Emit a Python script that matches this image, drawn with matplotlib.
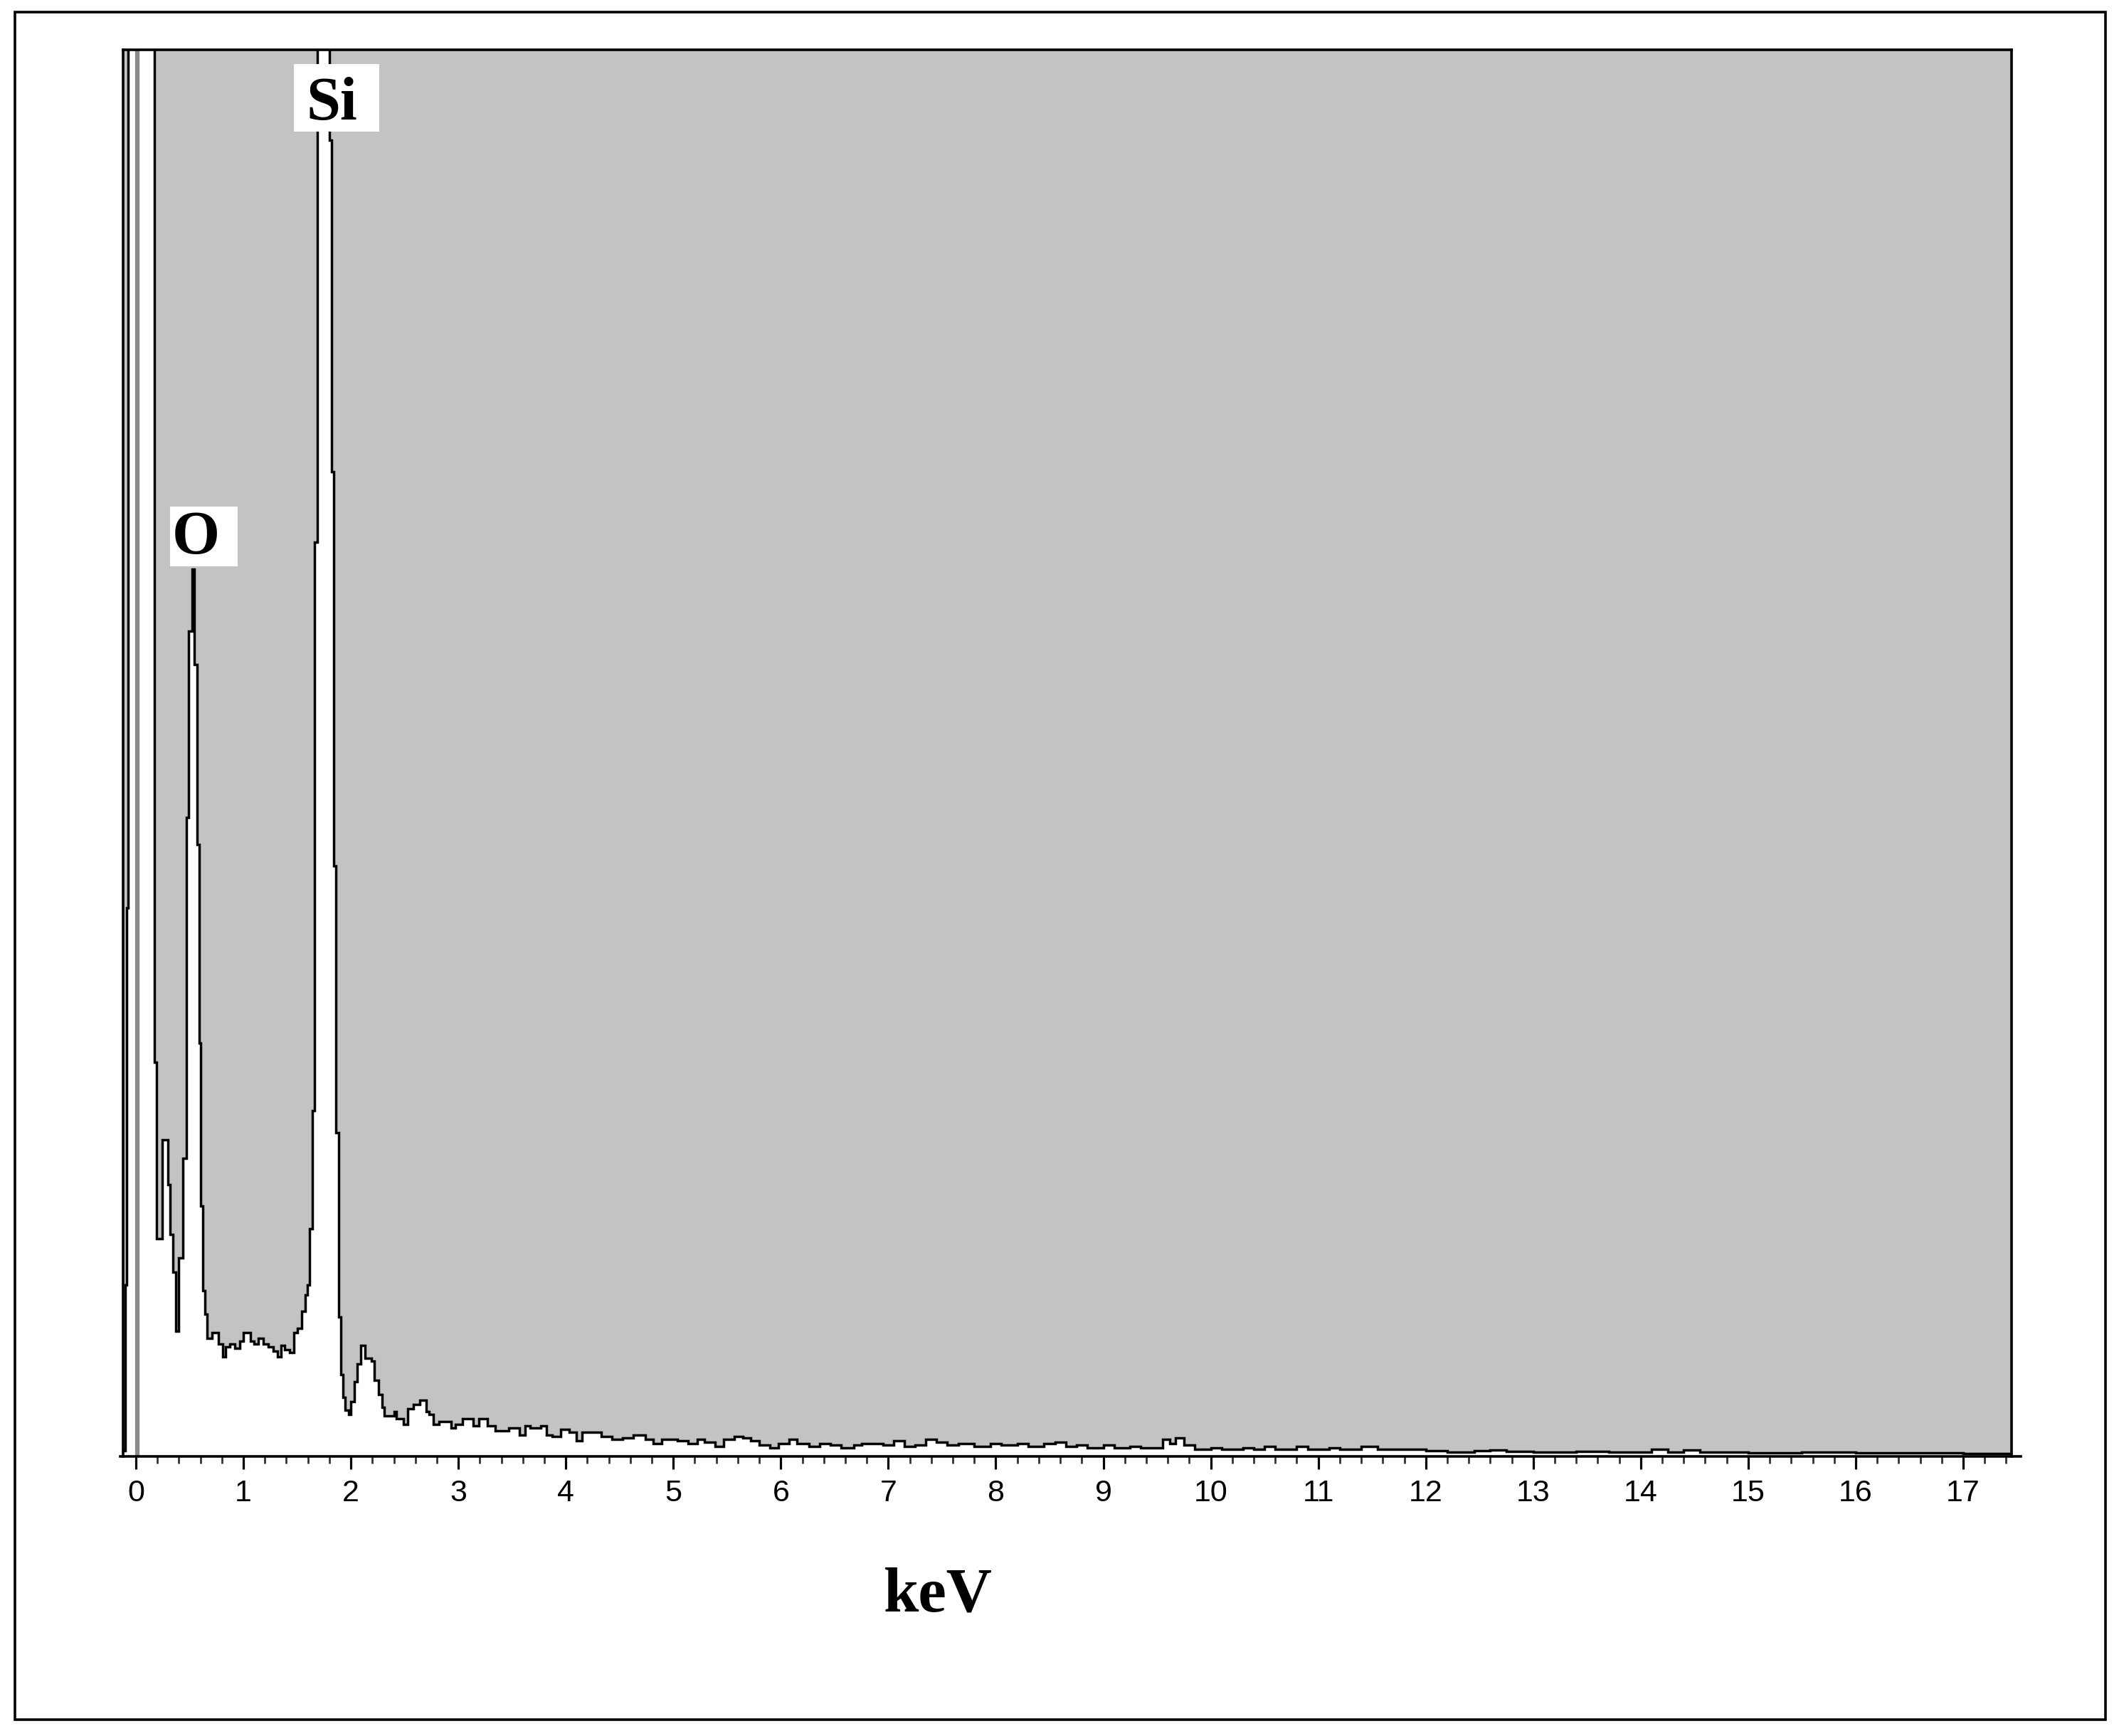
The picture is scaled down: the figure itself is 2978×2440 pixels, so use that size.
import matplotlib
matplotlib.use("Agg")
import matplotlib.pyplot as plt
from matplotlib.patches import Rectangle
from matplotlib.ticker import MultipleLocator

# ---- data (energy channel start in keV, counts normalised so the frame top = 1000) ----
channel_start = [
    -0.119, -0.10, -0.085, -0.07, 0.17, 0.19, 0.245, 0.30, 0.32, 0.345,
    0.37, 0.40, 0.435, 0.468, 0.49, 0.52, 0.545, 0.568, 0.59, 0.605,
    0.625, 0.64, 0.66, 0.678, 0.711, 0.766, 0.81, 0.833, 0.877, 0.92,
    0.965, 0.998, 1.064, 1.098, 1.142, 1.186, 1.23, 1.275, 1.32, 1.352,
    1.385, 1.43, 1.473, 1.506, 1.54, 1.573, 1.595, 1.617, 1.64, 1.66,
    1.685, 1.80, 1.82, 1.84, 1.86, 1.885, 1.905, 1.925, 1.947, 1.98,
    2.00, 2.03, 2.058, 2.09, 2.13, 2.19, 2.22, 2.256, 2.29, 2.31,
    2.40, 2.42, 2.49, 2.53, 2.58, 2.64, 2.70, 2.73, 2.77, 2.82,
    2.93, 2.97, 3.04, 3.14, 3.19, 3.27, 3.34, 3.47, 3.57, 3.62,
    3.67, 3.77, 3.82, 3.87, 3.95, 4.03, 4.10, 4.15, 4.23, 4.33,
    4.43, 4.53, 4.63, 4.74, 4.81, 4.89, 5.04, 5.14, 5.22, 5.29,
    5.39, 5.47, 5.57, 5.65, 5.72, 5.80, 5.90, 5.98, 6.08, 6.15,
    6.26, 6.36, 6.46, 6.56, 6.68, 6.75, 6.85, 6.95, 7.05, 7.15,
    7.25, 7.35, 7.45, 7.55, 7.65, 7.80, 7.95, 8.05, 8.20, 8.30,
    8.45, 8.55, 8.65, 8.75, 8.85, 9.00, 9.10, 9.25, 9.35, 9.55,
    9.62, 9.67, 9.75, 9.85, 10.0, 10.1, 10.3, 10.4, 10.5, 10.6,
    10.8, 10.9, 11.1, 11.2, 11.4, 11.55, 11.7, 12.0, 12.2, 12.45,
    12.6, 12.75, 13.0, 13.4, 13.7, 14.1, 14.25, 14.4, 14.55, 15.0,
    15.5, 16.0, 16.5, 17.0,
]
counts = [
    4, 122, 390, 3000, 280, 155, 225, 193, 158, 131,
    89, 141, 212, 454, 587, 631, 563, 435, 294, 178,
    118, 101, 84, 84, 88, 80, 71, 78, 80, 77,
    82, 88, 82, 80, 84, 80, 78, 75, 71, 79,
    76, 74, 88, 91, 103, 115, 122, 162, 246, 650,
    3000, 936, 700, 420, 230, 99, 58, 42, 33, 30,
    39, 53, 66, 79, 70, 68, 54, 44, 35, 29,
    32, 27, 23, 34, 37, 40, 32, 30, 23, 25,
    20, 23, 27, 22, 27, 22, 18, 20, 15, 22,
    20, 22, 15, 14, 19, 17, 11, 17, 17, 14,
    12, 13, 15, 12, 9, 12, 11, 9, 12, 10,
    7, 12, 14, 13, 11, 8, 6, 9, 12, 9,
    7, 9, 8, 6, 8, 9, 9, 8, 11, 7,
    8, 12, 10, 8, 9, 7, 9, 8, 9, 7,
    9, 10, 7, 8, 6, 8, 6, 7, 6, 12,
    9, 13, 8, 5, 6, 5, 6, 5, 7, 5,
    7, 5, 6, 5, 7, 5, 5, 4, 3, 4,
    4.5, 3.5, 3, 3.5, 3, 5, 3, 4.5, 3, 2.5,
    3, 2.5, 2.5, 2,
]
spectrum_end = 17.45
tick_values = list(range(0, 18))
tick_labels = [str(v) for v in tick_values]
peak_labels = ["O", "Si"]
peak_label_pos = [(0.557, 641.9), (1.822, 950.4)]
peak_boxes = [(0.318, 632.8, 0.630, 42.5), (1.471, 941.8, 0.795, 48.1)]
axis_label = "keV"

edges = channel_start + [spectrum_end]

W, H = 2978, 2440
fig = plt.figure(figsize=(W / 100, H / 100), dpi=100)
fig.patch.set_facecolor("white")
ax = fig.add_axes([173 / W, 1 - 2047 / H, (2827 - 173) / W, (2047 - 70) / H])
ax.set_facecolor("#c3c3c3")

ax.stairs(counts, edges, fill=True, color="white", baseline=0, zorder=1)
ax.axvline(0.013, color="#8a8a8a", lw=4.5, zorder=2)
ax.stairs(counts, edges, color="black", lw=2.5, baseline=None, zorder=3)

ax.set_xlim(-0.119, 17.45)
ax.set_ylim(0, 1000)

ax.set_xticks(tick_values)
ax.set_xticklabels(tick_labels, fontfamily="Liberation Sans", fontsize=31)
ax.xaxis.set_minor_locator(MultipleLocator(0.2))
ax.tick_params(axis="x", which="major", length=13, width=2.3, direction="out", pad=10, color="black")
ax.tick_params(axis="x", which="minor", length=7, width=2.0, direction="out", color="#333333")
ax.set_yticks([])

for s in ["left", "right", "top", "bottom"]:
    ax.spines[s].set_linewidth(2.6)
    ax.spines[s].set_color("black")
ax.spines["bottom"].set_bounds(-0.146, 17.535)

for (bx, by, bw, bh), (tx, ty), lab in zip(peak_boxes, peak_label_pos, peak_labels):
    ax.add_patch(Rectangle((bx, by), bw, bh, facecolor="white", edgecolor="none", zorder=4))
    ax.text(tx, ty, lab, ha="center", va="baseline", fontsize=62,
            fontfamily="Liberation Serif", fontweight="bold", zorder=5)

fig.text(1318 / W, 1 - 2265 / H, axis_label, ha="center", va="baseline", fontsize=64,
         fontfamily="Liberation Serif", fontweight="bold")

fig.add_artist(Rectangle((21 / W, 1 - 2417 / H), (2959 - 21) / W, (2417 - 17) / H,
                         transform=fig.transFigure, fill=False, edgecolor="black", lw=2.6))

fig.savefig("out.png", dpi=100, facecolor="white")
